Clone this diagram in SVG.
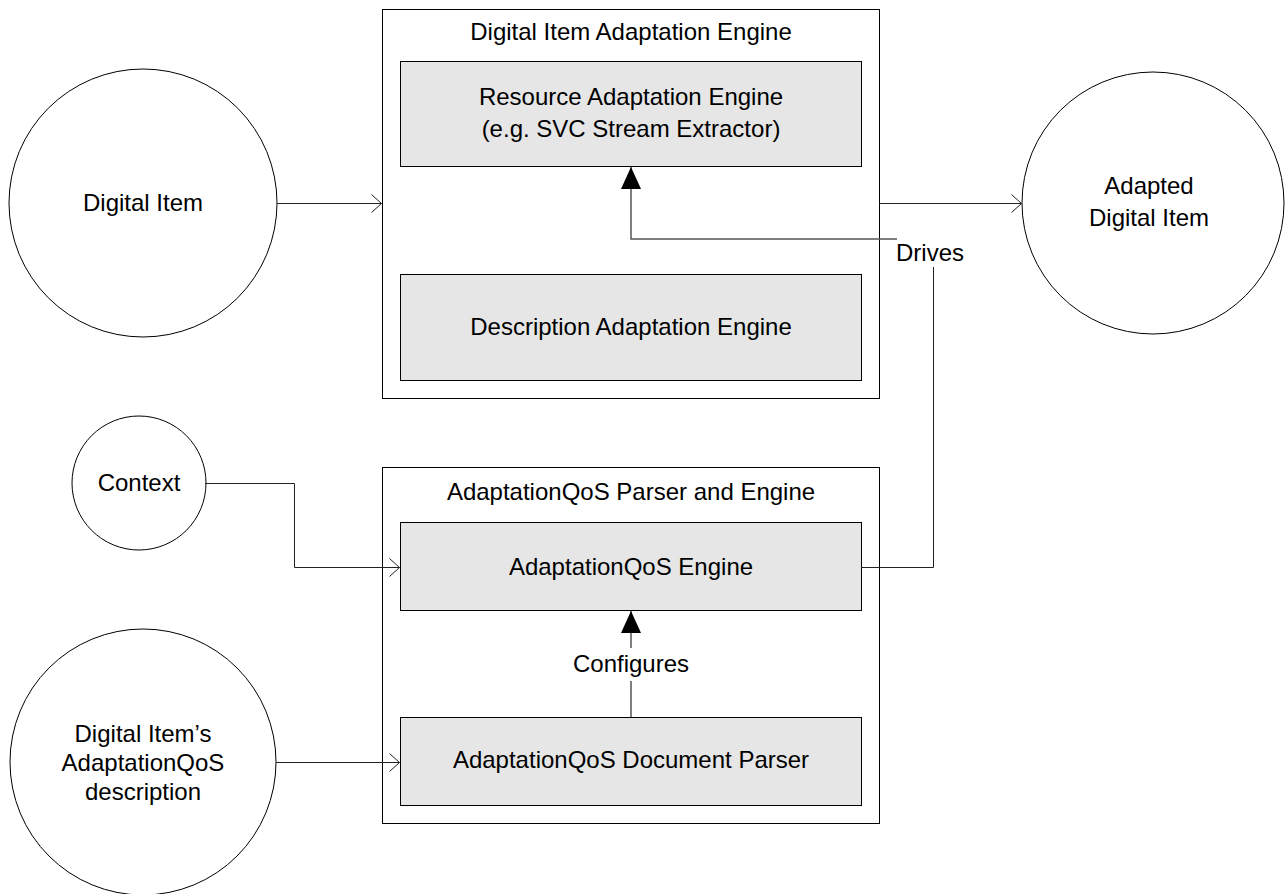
<svg xmlns="http://www.w3.org/2000/svg" width="1286" height="894" viewBox="0 0 1286 894">
<style>
text{font-family:"Liberation Sans",Arial,sans-serif;font-size:24px;fill:#000;text-anchor:middle}
.outer{fill:#fff;stroke:#000;stroke-width:1}
.inner{fill:#e6e6e6;stroke:#000;stroke-width:1}
.circ{fill:#fff;stroke:#000;stroke-width:1}
.conn{fill:none;stroke:#222;stroke-width:1}
.conn2{fill:none;stroke:#555;stroke-width:1.5}
</style>
<defs>
<marker id="open" markerWidth="12" markerHeight="20" refX="11" refY="10" orient="auto" markerUnits="userSpaceOnUse">
<path d="M1,1 L11,10 L1,19" fill="none" stroke="#222" stroke-width="1"/>
</marker>
<marker id="solid" markerWidth="22" markerHeight="22" refX="22" refY="10" orient="auto" markerUnits="userSpaceOnUse">
<path d="M0,0 L22,10 L0,20 Z" fill="#000"/>
</marker>
</defs>
<rect width="1286" height="894" fill="#fff"/>
<g id="diae">
<rect class="outer" x="382.5" y="9.5" width="497" height="389"/>
<text x="631" y="40">Digital Item Adaptation Engine</text>
</g>
<g id="rae">
<rect class="inner" x="400.5" y="61.5" width="461" height="105"/>
<text x="631" y="105">Resource Adaptation Engine</text>
<text x="631" y="137">(e.g. SVC Stream Extractor)</text>
</g>
<g id="dae">
<rect class="inner" x="400.5" y="274.5" width="461" height="106"/>
<text x="631" y="335">Description Adaptation Engine</text>
</g>
<g id="aqpe">
<rect class="outer" x="382.5" y="467.5" width="497" height="356"/>
<text x="631" y="500">AdaptationQoS Parser and Engine</text>
</g>
<g id="aqe">
<rect class="inner" x="400.5" y="522.5" width="461" height="88"/>
<text x="631" y="575">AdaptationQoS Engine</text>
</g>
<g id="aqdp">
<rect class="inner" x="400.5" y="717.5" width="461" height="88"/>
<text x="631" y="768">AdaptationQoS Document Parser</text>
</g>
<g id="di">
<circle class="circ" cx="143" cy="203" r="134"/>
<text x="143" y="211">Digital Item</text>
</g>
<g id="adi">
<circle class="circ" cx="1153" cy="203" r="131"/>
<text x="1149" y="194">Adapted</text>
<text x="1149" y="226">Digital Item</text>
</g>
<g id="ctx">
<circle class="circ" cx="139" cy="483" r="67"/>
<text x="139" y="491">Context</text>
</g>
<g id="diqos">
<circle class="circ" cx="143" cy="762" r="133"/>
<text x="143" y="742">Digital Item’s</text>
<text x="143" y="771">AdaptationQoS</text>
<text x="143" y="800">description</text>
</g>
<g id="connectors">
<path class="conn" d="M277,203.5 H381.5" marker-end="url(#open)"/>
<path class="conn" d="M879,203.5 H1021.5" marker-end="url(#open)"/>
<path class="conn" d="M205,483.5 H294.5 V567.5 H399.5" marker-end="url(#open)"/>
<path class="conn" d="M276,762.5 H399.5" marker-end="url(#open)"/>
<path class="conn" d="M861,567.5 H933.5 V267"/>
<path class="conn2" d="M897,239 H631 V167" marker-end="url(#solid)"/>
<text x="930" y="261">Drives</text>
<path class="conn2" d="M631,717 V681"/>
<path class="conn2" d="M631,648 V611" marker-end="url(#solid)"/>
<text x="631" y="672">Configures</text>
</g>
</svg>
